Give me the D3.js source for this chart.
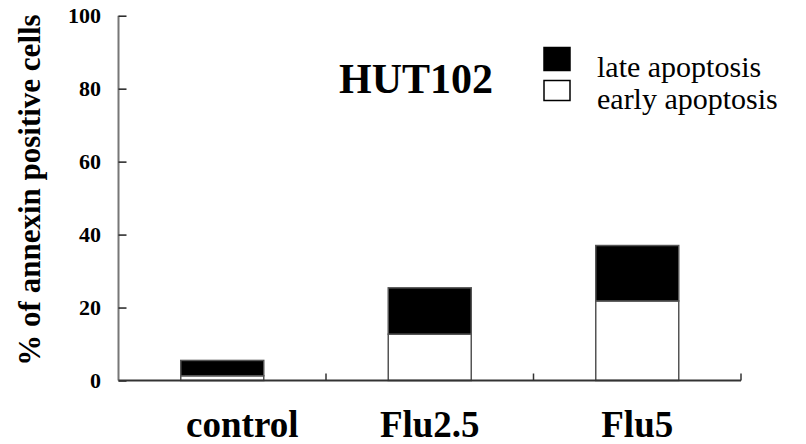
<!DOCTYPE html>
<html>
<head>
<meta charset="utf-8">
<script src="https://cdn.jsdelivr.net/npm/d3@7"></script>
<style>
  html, body { margin: 0; padding: 0; background: #fff; }
  svg { display: block; font-family: "Liberation Serif", "Times New Roman", serif; }
</style>
</head>
<body>
<svg id="chart" width="806" height="444"></svg>
<script>
const categories = ["control", "Flu2.5", "Flu5"];
const earlyApoptosis = [1.3, 12.7, 21.8];
const lateApoptosis = [4.2, 12.7, 15.2];
const yTicks = [0, 20, 40, 60, 80, 100];
const seriesNames = ["late apoptosis", "early apoptosis"];
const chartTitle = "HUT102";
const yTitle = "% of annexin positive cells";

const svg = d3.select("#chart");
const x0 = 118.5, x1 = 741, yBase = 380.5, yTop = 15.7;

const x = d3.scaleBand().domain(categories).range([x0, x1]).paddingInner(0.6).paddingOuter(0.3);
const y = d3.scaleLinear().domain([0, 100]).range([yBase, yTop]);

const rows = categories.map((c, i) => ({ cat: c, early: earlyApoptosis[i], late: lateApoptosis[i] }));
const stack = d3.stack().keys(["early", "late"])(rows);
const fills = { early: "#ffffff", late: "#000000" };

// bars
const g = svg.append("g");
stack.forEach(layer => {
  g.selectAll(null).data(layer).join("rect")
    .attr("x", d => x(d.data.cat))
    .attr("width", x.bandwidth())
    .attr("y", d => y(d[1]))
    .attr("height", d => y(d[0]) - y(d[1]))
    .attr("fill", fills[layer.key])
    .attr("stroke", "#555")
    .attr("stroke-width", 1.5);
});

// y axis
const yAxis = d3.axisRight(y).tickValues(yTicks).tickSize(8).tickFormat("");
const ya = svg.append("g").attr("transform", `translate(${x0},0)`).call(yAxis);
ya.select(".domain").attr("stroke", "#777").attr("stroke-width", 2).attr("d", `M0,${yTop}V${yBase}`);
ya.selectAll(".tick line").attr("stroke", "#222").attr("stroke-width", 1.5);

// y tick labels
svg.append("g").selectAll("text").data(yTicks).join("text")
  .attr("x", 101).attr("y", d => y(d)).attr("dy", "0.35em")
  .attr("text-anchor", "end")
  .attr("font-weight", "bold").attr("font-size", 22)
  .text(d => d);

// x axis
const step = x.step();
const boundaries = categories.map((c, i) => x0 + step * (i + 1));
svg.append("line").attr("x1", x0).attr("x2", x1).attr("y1", yBase).attr("y2", yBase)
  .attr("stroke", "#333").attr("stroke-width", 2);
svg.append("g").selectAll("line").data(boundaries).join("line")
  .attr("x1", d => d).attr("x2", d => d).attr("y1", yBase).attr("y2", yBase - 7)
  .attr("stroke", "#333").attr("stroke-width", 1.5);

// category labels
svg.append("g").selectAll("text").data(categories).join("text")
  .attr("x", (d, i) => x(d) + x.bandwidth() / 2 + (i === 0 ? 20 : 0))
  .attr("y", 436.5)
  .attr("text-anchor", "middle")
  .attr("font-weight", "bold").attr("font-size", 37)
  .text(d => d);

// y title
svg.append("text")
  .attr("transform", "translate(40,190) rotate(-90)")
  .attr("text-anchor", "middle")
  .attr("font-weight", "bold").attr("font-size", 31)
  .text(yTitle);

// chart title
svg.append("text").attr("x", 339).attr("y", 93)
  .attr("font-weight", "bold").attr("font-size", 42)
  .text(chartTitle);

// legend
const legendFills = ["#000000", "#ffffff"];
const lg = svg.append("g");
lg.selectAll("rect").data(seriesNames).join("rect")
  .attr("x", 544).attr("y", (d, i) => 47.5 + i * 33)
  .attr("width", 26).attr("height", (d, i) => i === 0 ? 23 : 20)
  .attr("fill", (d, i) => legendFills[i])
  .attr("stroke", "#000").attr("stroke-width", 1.5);
lg.selectAll("text").data(seriesNames).join("text")
  .attr("x", 597).attr("y", (d, i) => 77 + i * 32)
  .attr("font-size", 30)
  .text(d => d);
</script>
</body>
</html>
